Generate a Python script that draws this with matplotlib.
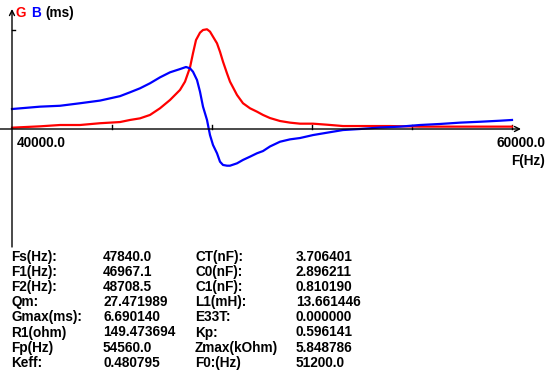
import matplotlib
matplotlib.use("Agg")
import matplotlib.pyplot as plt

# ---- data ----
freq_b = [40000, 41120, 41920, 42720, 43520, 44320, 44720, 45120, 45520, 45920,
          46320, 46720, 46960, 47120, 47240, 47400, 47520, 47640, 47800, 47920,
          48040, 48200, 48320, 48440, 48600, 48720, 49000, 49240, 49520, 49800,
          50040, 50320, 50720, 51120, 51520, 52040, 52600, 53240, 53920, 54720,
          55520, 56320, 57120, 57920, 58720, 59520, 60000]
b_ms = [1.35, 1.51, 1.57, 1.74, 1.92, 2.22, 2.48, 2.75, 3.09, 3.49,
        3.83, 4.05, 4.19, 4.10, 3.87, 3.31, 2.52, 1.51, 0.61, -0.41,
        -1.08, -1.64, -2.21, -2.43, -2.48, -2.48, -2.32, -2.09, -1.87, -1.64,
        -1.49, -1.18, -0.86, -0.70, -0.61, -0.41, -0.25, -0.07, 0.00, 0.10,
        0.16, 0.27, 0.34, 0.43, 0.49, 0.56, 0.61]

freq_g = [40000, 41120, 41920, 42720, 43520, 44320, 44720, 45120, 45520, 45920,
          46320, 46720, 46920, 47120, 47240, 47360, 47520, 47640, 47800, 47920,
          48040, 48200, 48320, 48440, 48600, 48720, 49000, 49240, 49520, 49800,
          50040, 50320, 50720, 51120, 51520, 52040, 52600, 53240, 53920, 55120,
          56320, 57920, 60000]
g_ms = [0.09, 0.18, 0.27, 0.27, 0.39, 0.47, 0.61, 0.72, 0.95, 1.40,
        1.96, 2.64, 3.20, 4.16, 5.12, 6.01, 6.51, 6.69, 6.74, 6.58,
        6.24, 5.79, 5.22, 4.55, 3.76, 3.20, 2.30, 1.74, 1.40, 1.17,
        0.95, 0.74, 0.54, 0.43, 0.36, 0.36, 0.29, 0.20, 0.20, 0.20,
        0.16, 0.16, 0.16]

x_ticks = [44000, 48000, 52000, 56000, 60000]
gmax = 6.690140

table_labels_1 = ["Fs(Hz):", "F1(Hz):", "F2(Hz):", "Qm:", "Gmax(ms):", "R1(ohm)", "Fp(Hz)", "Keff:"]
table_values_1 = ["47840.0", "46967.1", "48708.5", "27.471989", "6.690140", "149.473694", "54560.0", "0.480795"]
table_labels_2 = ["CT(nF):", "C0(nF):", "C1(nF):", "L1(mH):", "E33T:", "Kp:", "Zmax(kOhm)", "F0:(Hz)"]
table_values_2 = ["3.706401", "2.896211", "0.810190", "13.661446", "0.000000", "0.596141", "5.848786", "51200.0"]

# ---- figure ----
W, H = 550, 375
fig = plt.figure(figsize=(W / 100, H / 100), dpi=100, facecolor="white")
ax = fig.add_axes([0, 0, 1, 1])
ax.set_axis_off()

hz_per_px = 40.0
ms_per_px = gmax / 99.0
x0 = 40000 - 12 * hz_per_px
ax.set_xlim(x0, x0 + W * hz_per_px)
ax.set_ylim(-(H - 129) * ms_per_px, 129 * ms_per_px)

def px_x(p):
    return x0 + p * hz_per_px

def px_y(p):
    return (129 - p) * ms_per_px

# axes lines with arrows
ax.annotate("", xy=(px_x(521), 0), xytext=(px_x(0), 0),
            arrowprops=dict(arrowstyle="->", lw=1.0, color="black", mutation_scale=9,
                            shrinkA=0, shrinkB=0))
ax.annotate("", xy=(40000, px_y(9)), xytext=(40000, px_y(247)),
            arrowprops=dict(arrowstyle="->", lw=1.0, color="black", mutation_scale=9,
                            shrinkA=0, shrinkB=0))
for t in x_ticks:
    ax.plot([t, t], [0, 4 * ms_per_px], color="black", lw=1.0)
ax.plot([40000, px_x(15)], [gmax, gmax], color="black", lw=1.0)

# curves
ax.plot(freq_g, g_ms, color="#ff0000", lw=1.6, solid_joinstyle="round")
ax.plot(freq_b, b_ms, color="#0000ff", lw=1.6, solid_joinstyle="round")

font = dict(family=["Liberation Sans", "DejaVu Sans"], fontweight="bold", fontsize=9.8)

def ftext(px, py, s, color="black", ha="left"):
    fig.text(px / W, 1 - py / H, s, color=color, ha=ha, va="center", **font)

ftext(16, 13, "G", color="#ff0000")
ftext(31, 13, "B", color="#0000ff")
ftext(45, 13, "(ms)")

ftext(17, 143, "40000.0")
ftext(545, 143, "60000.0", ha="right")
ftext(545, 161, "F(Hz)", ha="right")

row_y0, row_dy = 257, 15.1
for i in range(len(table_labels_1)):
    y = row_y0 + i * row_dy
    ftext(11, y, table_labels_1[i])
    ftext(103, y, table_values_1[i])
    ftext(195, y, table_labels_2[i])
    ftext(296, y, table_values_2[i])

fig.savefig("out.png", dpi=100, facecolor="white")
